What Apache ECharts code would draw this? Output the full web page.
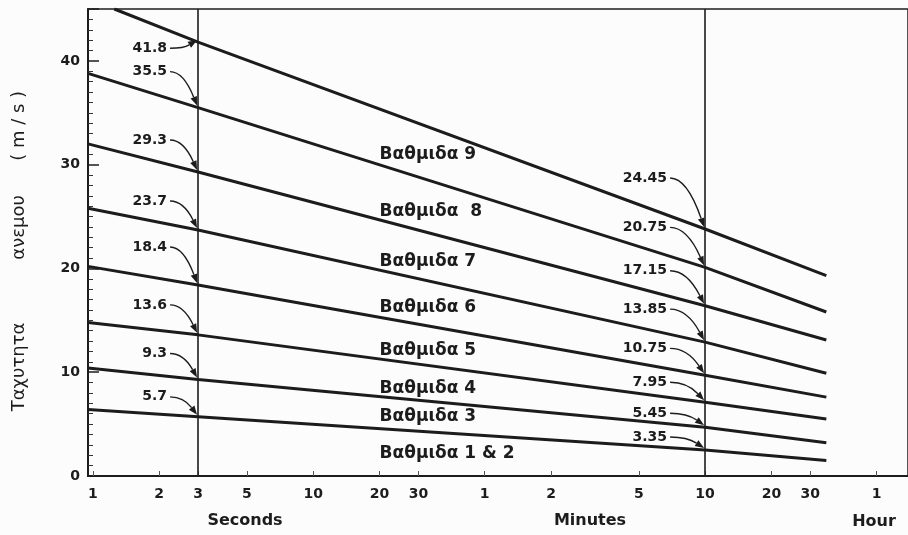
<!DOCTYPE html>
<html>
<head>
<meta charset="utf-8">
<script src="https://cdn.jsdelivr.net/npm/echarts@6/dist/echarts.min.js"></script>
<style>
  html, body { margin: 0; padding: 0; background: #fcfcfc; }
  #chart { width: 908px; height: 535px; }
</style>
</head>
<body>
<div id="chart"></div>
<script>
// durations in seconds (log axis)
const durations = [0.95, 3, 600, 2130];
const durations9 = [1.25, 3, 600, 2130];

// wind speed (m/s) of each level read at those durations
const speeds12 = [6.4, 5.7, 2.5, 1.5];
const speeds3 = [10.4, 9.3, 4.7, 3.2];
const speeds4 = [14.8, 13.6, 7.1, 5.5];
const speeds5 = [20.2, 18.4, 9.7, 7.6];
const speeds6 = [25.8, 23.7, 12.9, 9.9];
const speeds7 = [32.0, 29.3, 16.4, 13.1];
const speeds8 = [38.8, 35.5, 20.1, 15.8];
const speeds9 = [45.0, 41.8, 23.8, 19.3];

const levelNames = ['Βαθμιδα 1 & 2', 'Βαθμιδα 3', 'Βαθμιδα 4', 'Βαθμιδα 5',
  'Βαθμιδα 6', 'Βαθμιδα 7', 'Βαθμιδα  8', 'Βαθμιδα 9'];

// printed values at 3 s and 10 min
const labels3s = ['5.7', '9.3', '13.6', '18.4', '23.7', '29.3', '35.5', '41.8'];
const labels10m = ['3.35', '5.45', '7.95', '10.75', '13.85', '17.15', '20.75', '24.45'];

// x axis ticks
const tickValues = [1, 2, 3, 5, 10, 20, 30, 60, 120, 300, 600, 1200, 1800, 3600];
const tickLabels = ['1', '2', '3', '5', '10', '20', '30', '1', '2', '5', '10', '20', '30', '1'];
const markerDurations = [3, 600];

// layout of the annotations (pixels above the crossing point)
const rise3s = [20, 26, 30, 38, 29, 32, 36, -6];
const rise10m = [13, 14, 20, 27, 33, 35, 40, 51];
const bandLabelT = 20;
const bandLabelV = [2.2, 5.7, 8.4, 12.1, 16.2, 20.7, 25.5, 31.0];

const INK = '#1c1c1c';
const FONT = '"DejaVu Sans", sans-serif';

const levels = [speeds12, speeds3, speeds4, speeds5, speeds6, speeds7, speeds8, speeds9];

const lineSeries = levels.map(function (vals, i) {
  const xs = i === 7 ? durations9 : durations;
  return {
    name: levelNames[i],
    type: 'line',
    data: vals.map(function (v, k) { return [xs[k], v]; }),
    symbol: 'none',
    silent: true,
    lineStyle: { color: INK, width: 3 },
    markLine: i === 0 ? {
      silent: true,
      symbol: 'none',
      label: { show: false },
      lineStyle: { color: INK, width: 1.6, type: 'solid' },
      data: markerDurations.map(function (d) { return { xAxis: d }; })
    } : undefined
  };
});

function arrowRenderer(texts, rises, textGap) {
  return function (params, api) {
    const p = api.coord([api.value(0), api.value(1)]);
    const rise = rises[params.dataIndex];
    const tx = p[0] - textGap;
    const ty = p[1] - rise;
    const sx = tx + 3, sy = ty;
    const ex = p[0] - 1, ey = p[1] - 2;
    const cx = sx + (ex - sx) * 0.5, cy = sy;
    let dx = ex - cx, dy = ey - cy;
    const len = Math.hypot(dx, dy) || 1;
    dx /= len; dy /= len;
    const L = 9, W = 3.4;
    const bx = ex - dx * L, by = ey - dy * L;
    return {
      type: 'group',
      children: [
        {
          type: 'text',
          style: {
            text: texts[params.dataIndex], x: tx, y: ty,
            align: 'right', verticalAlign: 'middle',
            font: 'bold 14px ' + FONT, fill: INK
          }
        },
        {
          type: 'bezierCurve',
          shape: { x1: sx, y1: sy, x2: bx, y2: by, cpx1: cx, cpy1: cy },
          style: { stroke: INK, lineWidth: 1.4, fill: null }
        },
        {
          type: 'polygon',
          shape: { points: [[ex, ey], [bx - dy * W, by + dx * W], [bx + dy * W, by - dx * W]] },
          style: { fill: INK }
        }
      ]
    };
  };
}

const annotate3s = {
  type: 'custom',
  silent: true,
  data: levels.map(function (vals) { return [3, vals[1]]; }),
  renderItem: arrowRenderer(labels3s, rise3s, 31)
};

const annotate10m = {
  type: 'custom',
  silent: true,
  data: levels.map(function (vals) { return [600, vals[2]]; }),
  renderItem: arrowRenderer(labels10m, rise10m, 38)
};

const bandLabels = {
  type: 'custom',
  silent: true,
  data: bandLabelV.map(function (v) { return [bandLabelT, v]; }),
  renderItem: function (params, api) {
    const p = api.coord([api.value(0), api.value(1)]);
    return {
      type: 'text',
      style: {
        text: levelNames[params.dataIndex], x: p[0], y: p[1],
        align: 'left', verticalAlign: 'middle',
        font: 'bold 17px ' + FONT, fill: INK
      }
    };
  }
};

const chart = echarts.init(document.getElementById('chart'));

chart.setOption({
  backgroundColor: '#fcfcfc',
  animation: false,
  grid: {
    left: 88, top: 9, right: -2, bottom: 59,
    show: true, borderColor: INK, borderWidth: 1.5, backgroundColor: 'transparent'
  },
  xAxis: {
    type: 'log',
    logBase: 10,
    min: 0.95,
    max: 5000,
    axisLine: { lineStyle: { color: INK, width: 2 } },
    axisTick: { inside: true, length: 5, customValues: tickValues, lineStyle: { color: '#555' } },
    axisLabel: {
      customValues: tickValues,
      formatter: function (v) {
        const i = tickValues.indexOf(Math.round(v));
        return i >= 0 ? tickLabels[i] : '';
      },
      color: INK, fontFamily: FONT, fontWeight: 'bold', fontSize: 14, margin: 11
    },
    splitLine: { show: false },
    minorTick: { show: false }
  },
  yAxis: {
    type: 'value',
    min: 0,
    max: 45,
    interval: 10,
    name: 'Ταχυτητα           ανεμου      ( m / s )   ',
    nameLocation: 'middle',
    nameGap: 60,
    nameTextStyle: { color: INK, fontFamily: FONT, fontSize: 18 },
    axisLine: { show: true, lineStyle: { color: INK, width: 2 } },
    axisTick: { show: true, inside: true, length: 11, lineStyle: { color: INK, width: 1.5 } },
    minorTick: { show: true, splitNumber: 10, length: 5, lineStyle: { color: '#333', width: 1 } },
    axisLabel: {
      showMaxLabel: false,
      color: INK, fontFamily: FONT, fontWeight: 'bold', fontSize: 14, margin: 8
    },
    splitLine: { show: false }
  },
  graphic: [
    { type: 'text', x: 245, y: 521, style: { text: 'Seconds', align: 'center', verticalAlign: 'middle', font: 'bold 16px ' + FONT, fill: INK } },
    { type: 'text', x: 590, y: 521, style: { text: 'Minutes', align: 'center', verticalAlign: 'middle', font: 'bold 16px ' + FONT, fill: INK } },
    { type: 'text', x: 874, y: 522, style: { text: 'Hour', align: 'center', verticalAlign: 'middle', font: 'bold 16px ' + FONT, fill: INK } }
  ],
  series: lineSeries.concat([annotate3s, annotate10m, bandLabels])
});

window.addEventListener('resize', function () { chart.resize(); });
</script>
</body>
</html>
